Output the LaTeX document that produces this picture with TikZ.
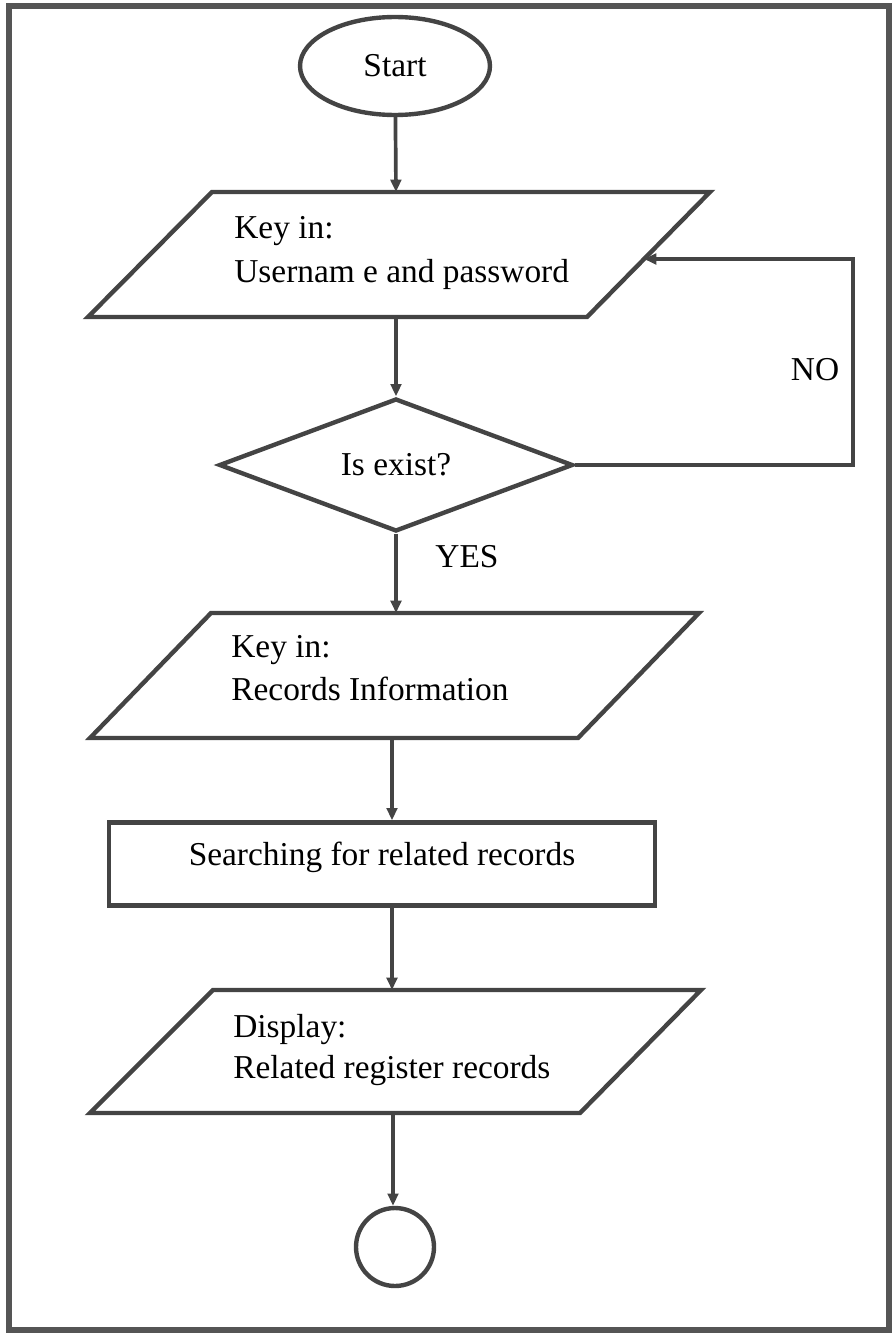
\documentclass[tikz,border=0pt]{standalone}
\usepackage{fontspec}
\setmainfont{Liberation Serif}
\usetikzlibrary{arrows.meta, shapes.geometric}

\definecolor{linegray}{RGB}{68,68,68}
\definecolor{framegray}{RGB}{85,85,85}

\begin{document}
\begin{tikzpicture}[x=0.02cm, y=-0.02cm,
		box/.style={draw=linegray, line width=2.5pt, fill=white, inner sep=0pt},
		flow/.style={draw=linegray, line width=2.1pt, -{Triangle[length=7pt,width=6pt]}},
		txt/.style={anchor=base west, inner sep=0pt},
		every node/.append style={font=\fontsize{19}{22}\selectfont}]
		\useasboundingbox (0,0) rectangle (894,1335);
		\draw[framegray, line width=3.4pt] (9,6) rectangle (889,1330);  % frame 
		
		\node[box, ellipse, minimum width=3.8cm, minimum height=1.96cm] (start) at (395,66) {Start};  % start 
		
		\draw[box] (212,192) -- (710,192) -- (587,317) -- (88,317) -- cycle;  % input: login 
		\coordinate (inLoginTop) at (396,192); 
		\coordinate (inLoginBot) at (396,317); 
		\node[txt] (keyLogin) at (234,238) {Key in:}; 
		\node[txt] (userPass) at (234,282) {Usernam e and password}; 
		
		\node[box, diamond, minimum width=7.08cm, minimum height=2.36cm] (isExist) at (396,465) {Is exist?};  % decision 
		
		\draw[box] (211,613) -- (699,613) -- (578,738) -- (90,738) -- cycle;  % input: records 
		\coordinate (inRecTop) at (396,613); 
		\coordinate (inRecBot) at (392,738); 
		\node[txt] (keyRec) at (231,657) {Key in:}; 
		\node[txt] (recInfo) at (231,700) {Records Information}; 
		
		\node[box, rectangle, minimum width=10.92cm, minimum height=1.66cm,
			text height=12pt, text depth=10pt] (search) at (382,864) {Searching for related records};  % process 
		
		\draw[box] (213,990) -- (701,990) -- (580,1113) -- (90,1113) -- cycle;  % output: display 
		\coordinate (outTop) at (392,990); 
		\coordinate (outBot) at (393,1113); 
		\node[txt] (display) at (233,1037) {Display:}; 
		\node[txt] (relRec) at (233,1078) {Related register records}; 
		
		\node[box, circle, minimum size=1.56cm] (stop) at (395,1247) {};  % end 
		
		\coordinate (noCorner) at (853,259); 
		\coordinate (noIn) at (644,259); 
		
		\draw[flow] (start) -- (inLoginTop); 
		\draw[flow] (inLoginBot) -- (isExist.north); 
		\draw[flow] (isExist.east) -| (noCorner) -- (noIn);  % NO loop 
		\node[anchor=base, inner sep=0pt] (no) at (815,380) {NO}; 
		\draw[flow] (isExist.south) -- (inRecTop); 
		\node[anchor=base, inner sep=0pt] (yes) at (467,567) {YES}; 
		\draw[flow] (inRecBot) -- (search.north -| inRecBot); 
		\draw[flow] (search.south -| outTop) -- (outTop); 
		\draw[flow] (outBot) -- (stop.north -| outBot); 
		
	\end{tikzpicture}
\end{document}
